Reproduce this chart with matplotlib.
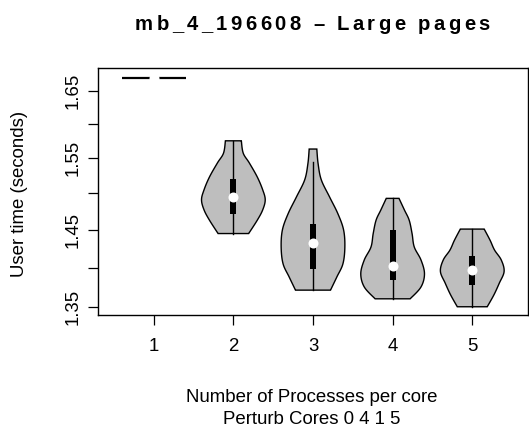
import numpy as np
import matplotlib
matplotlib.use('Agg')
import matplotlib.pyplot as plt
from matplotlib.patches import Rectangle
from matplotlib.font_manager import FontProperties

plt.rcParams['font.family'] = ['Liberation Sans', 'DejaVu Sans']

# ---------------- data ----------------
groups = [1, 2, 3, 4, 5]
medians = [1.670, 1.495, 1.433, 1.402, 1.397]
q1 = [1.670, 1.472, 1.398, 1.384, 1.377]
q3 = [1.670, 1.520, 1.4575, 1.450, 1.415]
whisk_lo = [1.670, 1.445, 1.371, 1.360, 1.350]
whisk_hi = [1.670, 1.575, 1.545, 1.493, 1.451]

# violin outlines: value levels (bottom -> top) and relative half-widths
prof_y1 = [1.670, 1.670]
prof_w1 = [1.0, 1.0]
prof_y2 = [1.445, 1.463, 1.477, 1.491, 1.505, 1.523, 1.543, 1.557, 1.575]
prof_w2 = [0.48, 0.75, 0.92, 1.00, 0.92, 0.75, 0.50, 0.31, 0.25]
prof_y3 = [1.371, 1.388, 1.405, 1.427, 1.450, 1.472, 1.495, 1.519, 1.542, 1.563]
prof_w3 = [0.55, 0.75, 0.94, 1.00, 0.96, 0.78, 0.52, 0.26, 0.16, 0.12]
prof_y4 = [1.360, 1.375, 1.392, 1.410, 1.427, 1.445, 1.463, 1.477, 1.493]
prof_w4 = [0.55, 0.89, 1.00, 0.89, 0.68, 0.61, 0.52, 0.37, 0.20]
prof_y5 = [1.350, 1.365, 1.380, 1.395, 1.410, 1.423, 1.436, 1.451]
prof_w5 = [0.47, 0.68, 0.85, 1.00, 0.91, 0.70, 0.56, 0.375]
profiles_y = [prof_y1, prof_y2, prof_y3, prof_y4, prof_y5]
profiles_w = [prof_w1, prof_w2, prof_w3, prof_w4, prof_w5]

ytick_vals = [1.35, 1.40, 1.45, 1.50, 1.55, 1.60, 1.65]
ytick_labels = ['1.35', '', '1.45', '', '1.55', '', '1.65']

title = 'mb_4_196608 \u2013 Large pages'
xlabel1 = 'Number of Processes per core'
xlabel2 = 'Perturb Cores 0 4 1 5'
ylabel = 'User time (seconds)'

# ---------------- figure ----------------
W, H = 529, 428
FS = 13.4
fig = plt.figure(figsize=(W / 100, H / 100), dpi=100)
ax = fig.add_axes([98 / W, 1 - 315 / H, (528 - 98) / W, (315 - 68) / H])

FILL = '#bebebe'
HALF = 0.4


def catmull(ly, w, n=12):
    pts = np.column_stack([ly, w])
    if len(pts) < 3:
        return pts[:, 0], pts[:, 1]
    P = np.vstack([pts[0], pts, pts[-1]])
    out = []
    for i in range(1, len(P) - 2):
        p0, p1, p2, p3 = P[i - 1], P[i], P[i + 1], P[i + 2]
        for t in np.linspace(0, 1, n, endpoint=False):
            t2, t3 = t * t, t * t * t
            out.append(0.5 * ((2 * p1) + (-p0 + p2) * t +
                              (2 * p0 - 5 * p1 + 4 * p2 - p3) * t2 +
                              (-p0 + 3 * p1 - 3 * p2 + p3) * t3))
    out.append(P[-2])
    out = np.array(out)
    return out[:, 0], out[:, 1]


for i, g in enumerate(groups):
    ly, w = catmull(np.log(profiles_y[i]), np.array(profiles_w[i]))
    yy = np.exp(ly)
    hw = w * HALF
    xs = np.concatenate([g - hw, (g + hw)[::-1]])
    ys = np.concatenate([yy, yy[::-1]])
    flat = np.ptp(profiles_y[i]) == 0
    ax.fill(xs, ys, facecolor=FILL, edgecolor='black',
            linewidth=1.6 if flat else 1.0, zorder=2)
    ax.plot([g, g], [whisk_lo[i], whisk_hi[i]], color='black', lw=1.0, zorder=3)
    bw = 0.075
    ax.add_patch(Rectangle((g - bw / 2, q1[i]), bw, q3[i] - q1[i],
                           facecolor='black', edgecolor='none', zorder=4))
    ax.plot([g], [medians[i]], 'o', color='white', markersize=7.2,
            markeredgewidth=0, zorder=5)

ax.set_yscale('log')
ax.set_xlim(0.3, 5.7)
ax.set_ylim(1.3397, 1.6852)
ax.minorticks_off()
ax.set_yticks(ytick_vals)
ax.set_yticklabels(ytick_labels)
ax.set_xticks(groups)
ax.set_xticklabels([str(g) for g in groups])
ax.yaxis.set_minor_locator(matplotlib.ticker.NullLocator())
ax.tick_params(axis='both', length=7.5, width=0.9, labelsize=FS, color='black')
ax.tick_params(axis='x', pad=9)
ax.tick_params(axis='y', pad=4.5)
for lab in ax.get_yticklabels():
    lab.set_rotation(90)
    lab.set_va('center')
for s in ax.spines.values():
    s.set_linewidth(1.0)

fig.text(20 / W, 1 - 194 / H, ylabel, rotation=90, ha='center', va='center',
         fontsize=FS)
fig.text(312 / W, 1 - 402.5 / H, xlabel1, ha='center', va='baseline', fontsize=FS)
fig.text(312 / W, 1 - 424.2 / H, xlabel2, ha='center', va='baseline', fontsize=FS)

# title with letter spacing
renderer = fig.canvas.get_renderer()
fp = FontProperties(family=['Liberation Sans', 'DejaVu Sans'], weight='bold', size=14.6)


def tw(s):
    w, h, d = renderer.get_text_width_height_descent(s, fp, ismath=False)
    return w


hw_ref = tw('H')
positions = [0.0] + [tw(title[:k] + 'H') - hw_ref for k in range(1, len(title))]
natural = tw(title)
target = 355.0
extra = (target - natural) / (len(title) - 1)
x0 = 312.5 - target / 2
for k, ch in enumerate(title):
    if ch == ' ':
        continue
    fig.text((x0 + positions[k] + k * extra) / W, 1 - 30 / H, ch,
             fontproperties=fp, ha='left', va='baseline')

fig.savefig('out.png', dpi=100)
